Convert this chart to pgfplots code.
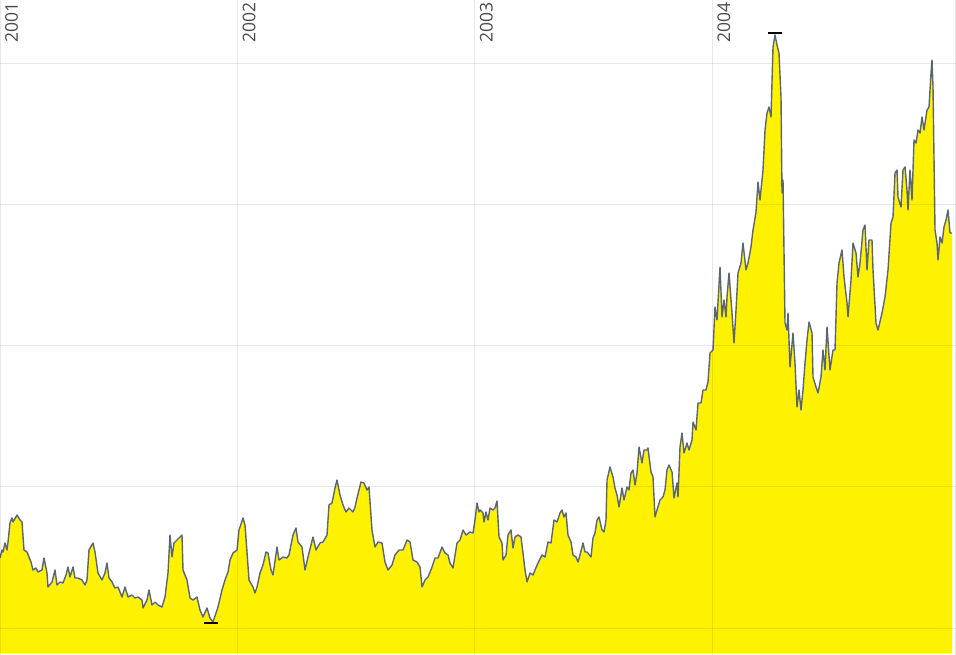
\documentclass[border=0pt]{standalone}
\usepackage{pgfplots}
\pgfplotsset{compat=1.18}
\usepackage{fontspec}
\setmainfont{Open Sans}
\definecolor{fillyellow}{HTML}{FFF200}
\definecolor{linegray}{HTML}{5B6670}
\definecolor{labelgray}{HTML}{4A4A4A}
\pgfplotstableread{
x y
0 95
2 103
3 101
5 110
7 103
8 111
10 130
12 135
13 131
17 138
20 133
22 131
24 103
27 101
29 96
31 91
33 83
36 85
38 81
42 83
44 95
47 80
48 66
52 71
55 83
57 68
60 71
63 70
66 78
68 86
70 76
73 86
75 75
78 75
82 73
85 68
87 73
89 103
93 110
95 101
98 80
102 73
105 80
107 90
109 75
112 71
115 65
118 66
122 56
125 66
128 56
132 58
135 55
138 56
142 53
143 45
147 53
149 63
152 48
155 51
158 48
162 46
165 56
168 80
170 118
172 96
174 110
177 113
180 116
182 118
183 83
187 73
190 55
193 53
197 56
200 43
203 36
207 45
210 35
213 31
216 40
218 46
222 63
225 73
228 81
230 93
233 100
237 103
239 123
240 126
243 135
245 128
247 101
249 73
253 66
255 60
257 66
260 80
263 88
266 101
268 100
271 83
273 78
277 106
279 93
283 96
287 95
289 98
293 118
296 125
298 111
302 106
305 83
308 96
313 116
316 103
320 110
323 111
327 118
329 148
332 150
335 165
337 173
340 158
343 148
346 141
349 145
353 141
355 146
357 155
361 171
364 170
367 163
369 166
372 123
375 106
378 111
382 110
385 91
388 83
392 88
395 98
399 103
403 103
407 113
410 111
413 93
417 91
420 86
422 66
425 73
428 76
432 86
435 95
438 95
442 106
445 100
448 98
450 90
453 85
457 110
460 113
463 123
466 118
470 121
473 120
475 133
477 150
479 141
480 143
483 140
484 131
486 141
488 133
490 145
493 143
495 145
497 152
499 116
502 110
503 93
506 98
508 118
511 123
513 105
515 116
518 118
521 116
523 100
525 83
527 71
530 80
533 78
535 83
538 90
542 98
545 96
548 111
551 110
554 133
557 131
560 140
562 143
564 136
566 140
568 118
571 111
573 98
576 96
578 91
580 98
583 110
585 101
587 101
591 96
593 115
595 120
597 133
599 136
602 123
604 121
606 133
607 173
610 186
613 176
615 165
617 158
619 146
622 165
624 153
627 166
629 163
631 180
633 183
635 168
637 180
639 206
642 190
644 203
647 203
648 205
651 181
653 176
655 136
657 143
660 153
663 156
665 163
667 183
669 188
672 181
674 155
677 170
678 156
680 206
682 220
684 200
687 210
689 203
692 213
693 231
696 223
698 250
701 250
703 263
706 263
708 271
710 300
713 303
715 346
717 333
720 386
722 336
724 353
726 336
727 356
729 380
732 340
734 310
736 343
738 380
741 390
743 410
746 383
748 390
751 406
753 423
756 441
758 471
760 453
763 483
765 523
767 540
769 546
771 536
773 606
775 618
777 608
779 600
781 556
782 460
783 473
785 330
787 323
788 340
790 286
793 320
795 290
797 246
799 263
801 243
803 263
805 290
807 313
809 331
812 320
813 276
816 266
818 260
821 276
823 303
825 283
827 326
830 283
833 303
835 303
837 370
839 390
842 403
844 376
847 350
848 336
851 373
853 410
856 400
858 376
860 390
863 423
865 428
867 383
869 413
872 413
873 383
876 330
878 323
882 340
885 356
888 383
891 430
893 436
895 480
897 483
898 456
901 446
903 483
905 486
907 463
908 443
910 483
912 453
914 513
916 510
918 523
920 520
922 536
924 523
927 543
929 546
931 580
932 593
933 566
935 423
937 410
938 393
940 416
942 410
944 426
946 433
948 443
950 420
952 420
}\pricedata
\begin{document}
\begin{tikzpicture}
\begin{axis}[
  at={(0,0)}, anchor=south west,
  width=956bp, height=655bp, scale only axis,
  xmin=0, xmax=956, ymin=-2, ymax=653,
  axis line style={draw=none},
  tick style={draw=none},
  xtick={0,237.4,474.8,712.2,955},
  xticklabels={},
  ytick={25,166.25,307.5,448.75,590},
  yticklabels={},
  grid=major,
  grid style={black, opacity=0.085, line width=0.9bp},
  axis on top,
]
\addplot[draw=none, fill=fillyellow] table[x=x,y=y] {\pricedata} \closedcycle;
\addplot[draw=linegray, line width=1.4bp, line join=round, no marks] table[x=x,y=y] {\pricedata};
\addplot[only marks, mark=-, mark size=7bp, black, mark options={line width=1.3bp}] coordinates {(775,620) (210.5,30)};
\node[rotate=90, anchor=north east, inner sep=0pt, text=labelgray, font=\fontsize{17.5bp}{17.5bp}\selectfont] at (axis cs:5,651) {2001};
\node[rotate=90, anchor=north east, inner sep=0pt, text=labelgray, font=\fontsize{17.5bp}{17.5bp}\selectfont] at (axis cs:242.4,651) {2002};
\node[rotate=90, anchor=north east, inner sep=0pt, text=labelgray, font=\fontsize{17.5bp}{17.5bp}\selectfont] at (axis cs:479.8,651) {2003};
\node[rotate=90, anchor=north east, inner sep=0pt, text=labelgray, font=\fontsize{17.5bp}{17.5bp}\selectfont] at (axis cs:717.2,651) {2004};
\end{axis}
\pgfresetboundingbox
\useasboundingbox (0,0) rectangle (956bp,655bp);
\end{tikzpicture}
\end{document}
